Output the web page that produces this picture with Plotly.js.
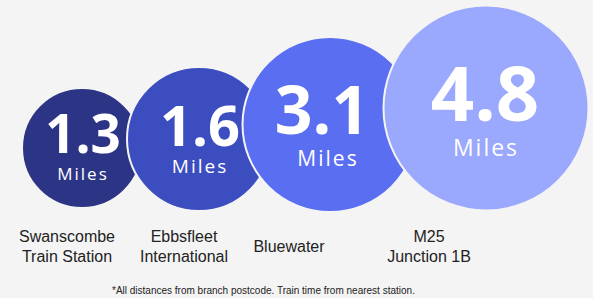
<!DOCTYPE html>
<html>
<head>
<meta charset="utf-8">
<script src="https://cdn.plot.ly/plotly-3.0.1.min.js"></script>
<style>
html,body{margin:0;padding:0;background:#f4f4f4;}
#chart{width:593px;height:298px;}
.spaced text{letter-spacing:2px;}
</style>
</head>
<body>
<div id="chart"></div>
<script>
// ---- data ----
const places = ["Swanscombe<br>Train Station", "Ebbsfleet<br>International", "Bluewater", "M25<br>Junction 1B"];
const miles = [1.3, 1.6, 3.1, 4.8];
const unitLabel = "Miles";
const footnote = "*All distances from branch postcode. Train time from nearest station.";

// ---- layout (pixel coordinates of the infographic) ----
const bubbleX = [82, 199, 330, 486];
const bubbleY = [148, 139, 124.5, 108];
const bubbleD = [120, 144, 175, 205];
const bubbleColors = ["#2c3585", "#3c4dc0", "#5a6ef2", "#9aa8fd"];
const numY = [140, 132, 117, 102];
const numX = [83, 200, 322, 485];
const numSize = [53, 56, 66, 76];
const unitY = [176, 168, 161, 150];
const unitX = [83, 200, 328, 486];
const unitSize = [17, 19, 21, 23];
const labelX = [67, 184, 289, 429];
const labelY = 248;

const traces = [
  {
    type: "scatter", mode: "markers",
    x: bubbleX, y: bubbleY,
    marker: {size: bubbleD, color: bubbleColors, opacity: 1,
             line: {color: "#f4f4f4", width: 2}},
    hoverinfo: "skip"
  },
  {
    type: "scatter", mode: "text",
    x: numX, y: numY,
    text: miles.map(v => v.toFixed(1)),
    textposition: "middle center",
    textfont: {family: "Open Sans", size: numSize, color: "#ffffff", weight: 700},
    hoverinfo: "skip"
  },
  {
    type: "scatter", mode: "text",
    x: unitX, y: unitY,
    text: miles.map(() => unitLabel),
    textposition: "middle center",
    textfont: {family: "Open Sans", size: unitSize, color: "#ffffff", weight: 400},
    hoverinfo: "skip"
  },
  {
    type: "scatter", mode: "text",
    x: labelX, y: places.map(() => labelY),
    text: places,
    textposition: "middle center",
    textfont: {family: "Liberation Sans", size: 16, color: "#222222"},
    hoverinfo: "skip"
  }
];

const layout = {
  width: 593, height: 298,
  margin: {l: 0, r: 0, t: 0, b: 0},
  paper_bgcolor: "#f4f4f4",
  plot_bgcolor: "#f4f4f4",
  showlegend: false,
  xaxis: {range: [0, 593], visible: false, fixedrange: true},
  yaxis: {range: [298, 0], visible: false, fixedrange: true},
  annotations: [{
    text: footnote, x: 263, y: 290, xref: "x", yref: "y",
    showarrow: false, xanchor: "center", yanchor: "middle",
    font: {family: "Liberation Sans", size: 10, color: "#222222"}
  }]
};

Plotly.newPlot("chart", traces, layout, {displayModeBar: false, staticPlot: true}).then(() => {
  const groups = document.querySelectorAll(".scatterlayer .trace");
  if (groups[2]) groups[2].classList.add("spaced");
});
</script>
</body>
</html>
